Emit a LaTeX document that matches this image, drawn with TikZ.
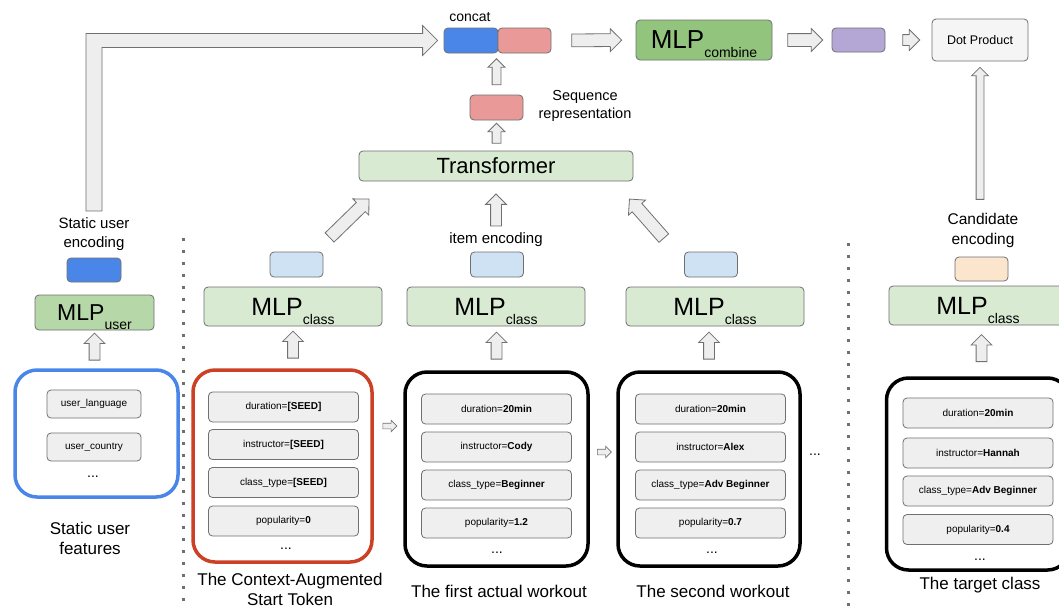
\documentclass[tikz,border=0pt]{standalone}
\usepackage{fontspec}
\setmainfont{Liberation Sans}
\usetikzlibrary{shapes.arrows,calc}

\definecolor{ublue}{HTML}{4A86E8}
\definecolor{seqpink}{HTML}{EA9999}
\definecolor{outpurple}{HTML}{B4A7D6}
\definecolor{combgreen}{HTML}{93C47D}
\definecolor{usergreen}{HTML}{B6D7A8}
\definecolor{classgreen}{HTML}{D9EAD3}
\definecolor{encblue}{HTML}{CFE2F3}
\definecolor{candpeach}{HTML}{FCE5CD}
\definecolor{seedred}{HTML}{CC4125}
\definecolor{edgegray}{HTML}{707070}
\definecolor{itemgray}{HTML}{EFEFEF}
\definecolor{arrowfill}{HTML}{EEEEEE}

% MLP with a lowered subscript that does not change the box height
\newcommand{\mlp}[2][25]{{\fontsize{#1}{#1}\selectfont MLP}\raisebox{-9pt}[0pt][0pt]{\fontsize{14}{14}\selectfont #2}}

\tikzset{
  box/.style={draw=edgegray, rounded corners=4pt, line width=0.8pt},
  item/.style={box, fill=itemgray, minimum width=150pt, minimum height=30pt, inner sep=0pt, font=\fontsize{10}{12}\selectfont},
  group/.style={draw, rounded corners=22pt, line width=3.5pt, minimum width=183pt, minimum height=194pt, inner sep=0pt},
  mlp/.style={box, fill=classgreen, minimum width=178pt, minimum height=39pt, inner sep=0pt},
  vec/.style={box, minimum width=53pt, minimum height=25pt, inner sep=0pt},
  lbl/.style={align=center, font=\fontsize{15}{19}\selectfont},
  caption/.style={align=center, font=\fontsize{17}{20}\selectfont},
  dots/.style={font=\fontsize{14}{14}\selectfont},
  % hollow block arrow, shaft = 2 x inner ysep, head = shaft + 2 x extend
  fat/.style={single arrow, draw=edgegray, fill=arrowfill, line width=0.8pt,
    single arrow head extend=5pt, single arrow head indent=0pt,
    inner xsep=0pt, inner ysep=5pt, sloped, allow upside down, pos=.5},
  fatline/.style={draw=edgegray, fill=arrowfill, line width=0.8pt, line join=miter},
  sep/.style={edgegray, line width=3pt, dash pattern=on 3pt off 9pt},
}

\begin{document}
\begin{tikzpicture}[x=1pt, y=-1pt]
\clip (0,0) rectangle (1059,608);
\fill[white] (0,0) rectangle (1059,608);

% static user branch
\node[group, draw=ublue, minimum width=163pt, minimum height=127pt] (ufeat) at (96.5,433.5) {};
\node[item, minimum width=94pt, minimum height=28pt] (ulang) at (94,404) {user\_language};
\node[item, minimum width=94pt, minimum height=28pt] (ucountry) at (94,447) {user\_country};
\node[dots] at (93,477) {...};
\node[caption] (ufeatlbl) at (90,538.5) {Static user\\features};
\node[mlp, fill=usergreen, minimum width=119pt, minimum height=35pt] (mlpu) at (94.5,312.5) {\mlp[23]{user}};
\node[vec, fill=ublue, minimum width=54pt, minimum height=24pt] (encu) at (94,270) {};
\node[lbl] (ulbl) at (94,234) {Static user\\encoding};

% separators
\draw[sep] (183,238) -- (183,606);
\draw[sep] (848,243) -- (848,606);

% start token
\node[group, draw=seedred, minimum width=179pt, minimum height=192pt] (cls1) at (282.5,466) {};
\node[item] (s1) at (283.5,407) {duration=\textbf{[SEED]}};
\node[item] (s2) at (283.5,444.5) {instructor=\textbf{[SEED]}};
\node[item] (s3) at (283.5,482.5) {class\_type=\textbf{[SEED]}};
\node[item] (s4) at (283.5,521) {popularity=\textbf{0}};
\node[dots] at (286,549) {...};
\node[caption] at (290,589.5) {The Context-Augmented\\Start Token};

% first workout
\node[group] (cls2) at (496.5,469) {};
\node[item] (a1) at (496.5,409) {duration=\textbf{20min}};
\node[item] (a2) at (496.5,447) {instructor=\textbf{Cody}};
\node[item] (a3) at (496.5,485) {class\_type=\textbf{Beginner}};
\node[item] (a4) at (496.5,523) {popularity=\textbf{1.2}};
\node[dots] at (497,553) {...};
\node[caption] at (499,591) {The first actual workout};

% second workout
\node[group, minimum width=182pt] (cls3) at (709,469) {};
\node[item] (b1) at (710.5,409) {duration=\textbf{20min}};
\node[item] (b2) at (710.5,447) {instructor=\textbf{Alex}};
\node[item] (b3) at (710.5,485) {class\_type=\textbf{Adv Beginner}};
\node[item] (b4) at (710.5,523) {popularity=\textbf{0.7}};
\node[dots] at (712,553) {...};
\node[caption] at (713,591) {The second workout};
\node[dots] at (815,455) {...};

% target class
\node[group, minimum height=192pt] (tgt) at (978,474) {};
\node[item] (t1) at (978,413) {duration=\textbf{20min}};
\node[item] (t2) at (978,453) {instructor=\textbf{Hannah}};
\node[item] (t3) at (978,491) {class\_type=\textbf{Adv Beginner}};
\node[item] (t4) at (978,529.5) {popularity=\textbf{0.4}};
\node[dots] at (980,560) {...};
\node[caption] at (980,585) {The target class};

% class encoders
\node[mlp] (mlpc1) at (293,306.5) {\mlp{class}};
\node[mlp] (mlpc2) at (496,306.5) {\mlp{class}};
\node[mlp] (mlpc3) at (715,306.5) {\mlp{class}};
\node[mlp] (mlpct) at (978,305.5) {\mlp{class}};
\node[vec, fill=encblue] (enc1) at (296.5,264.5) {};
\node[vec, fill=encblue] (enc2) at (497,264.5) {};
\node[vec, fill=encblue] (enc3) at (711,264.5) {};
\node[vec, fill=candpeach, minimum height=24pt] (encc) at (981.5,269) {};
\node[lbl] (ilbl) at (496,240) {item encoding};
\node[lbl, font=\fontsize{15.5}{20}\selectfont] (clbl) at (983,230) {Candidate\\encoding};

% sequence model and head
\node[box, fill=classgreen, minimum width=274pt, minimum height=30pt, font=\fontsize{22}{22}\selectfont] (tf) at (496,166) {Transformer};
\node[vec, fill=seqpink] (seq) at (496.5,107.5) {};
\node[lbl, font=\fontsize{14.5}{18}\selectfont] (seqlbl) at (585,106) {Sequence\\representation};
\node[vec, fill=ublue, minimum width=54pt] (cat1) at (471,40.5) {};
\node[vec, fill=seqpink] (cat2) at (524.5,40.5) {};
\node[lbl, font=\fontsize{14}{16}\selectfont] (catlbl) at (470,17) {concat};
\node[box, fill=combgreen, minimum width=136pt, minimum height=40pt, inner sep=0pt] (mlpcb) at (704,40) {\mlp[26]{combine}};
\node[vec, fill=outpurple, minimum height=24pt] (purp) at (858.5,40) {};
\node[box, fill=itemgray!60, minimum width=96pt, minimum height=42pt, font=\fontsize{12.5}{14}\selectfont] (dot) at (980,40) {Dot Product};

% inputs into the encoders
\path (mlpu.south |- ufeat.north) -- (mlpu.south) node[fat, minimum height=27pt] {};
\path (mlpc1.south |- cls1.north) -- (mlpc1.south) node[fat, minimum height=27pt] {};
\path (cls2.north) -- (cls2.north |- mlpc2.south) node[fat, minimum height=27pt] {};
\path (cls3.north) -- (cls3.north |- mlpc3.south) node[fat, minimum height=27pt] {};
\path (encc.south |- tgt.north) -- (encc.south |- mlpct.south) node[fat, minimum height=27pt] {};

% order of the sequence
\coordinate (n1) at ([yshift=40pt]cls1.east);
\coordinate (n2) at ([yshift=17pt]cls2.east);
\path (n1) -- (n1 -| cls2.west) node[fat, minimum height=14pt, inner ysep=2.5pt, single arrow head extend=3pt, line width=0.6pt] {};
\path (n2) -- (n2 -| cls3.west) node[fat, minimum height=14pt, inner ysep=2.5pt, single arrow head extend=3pt, line width=0.6pt] {};

% into the transformer
\path ($(enc1.north east)+(4,-12)$) -- ($(tf.south west)+(8,20)$) node[fat, minimum height=55pt, inner ysep=6pt] {};
\path (ilbl.north) -- (ilbl.north |- tf.south) node[fat, pos=.35, minimum height=32pt] {};
\path ($(enc3.north west)+(-19,-12)$) -- ($(tf.south east)+(-1,21)$) node[fat, minimum height=52pt, inner ysep=6pt] {};

% transformer to concat
\path (seq.south |- tf.north) -- (seq.south) node[fat, minimum height=20pt, inner ysep=4pt, single arrow head extend=4pt] {};
\path (seq.north) -- (seq.north |- cat2.south) node[fat, minimum height=26pt, inner ysep=4pt, single arrow head extend=4pt] {};

% user encoding carried up to concat
\draw[fatline] ($(ulbl.north)+(-8,-3)$) |- ($(cat1.west)+(-21,-7)$) -- ++(0,-8)
  -- ($(cat1.west)+(-6,0)$) -- ($(cat1.west)+(-21,15)$) -- ++(0,-8)
  -| ($(ulbl.north)+(8,-3)$) -- cycle;

% head
\path (cat2.east) -- (mlpcb.west) node[fat, minimum height=50pt, inner ysep=6pt] {};
\path (mlpcb.east) -- (purp.west) node[fat, minimum height=35pt, inner ysep=6pt] {};
\path (purp.east) -- (dot.west) node[fat, minimum height=17pt] {};
\path (dot.south |- clbl.north) -- (dot.south) node[fat, minimum height=132pt, inner ysep=3.5pt, single arrow head extend=4.5pt] {};

\end{tikzpicture}
\end{document}
